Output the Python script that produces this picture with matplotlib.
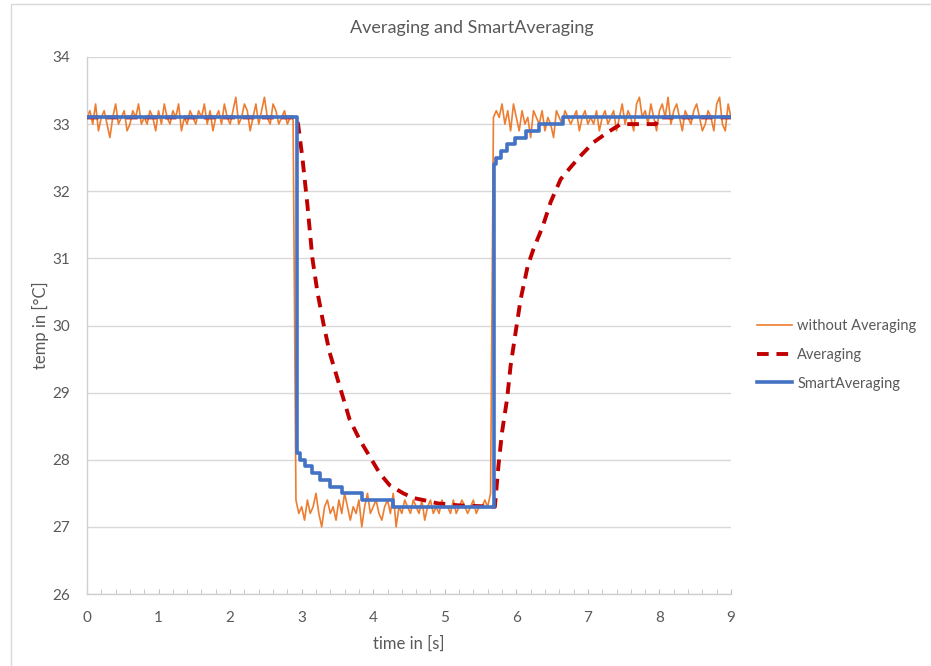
import numpy as np
import matplotlib
matplotlib.use("Agg")
import matplotlib.pyplot as plt
from matplotlib.ticker import MultipleLocator
from matplotlib.patches import Rectangle

plt.rcParams["font.family"] = ["Lato", "DejaVu Sans"]

# ── data ──────────────────────────────────────────────────────────────
SAMPLE_DT = 0.04  # raw sensor samples, seconds apart

RAW_HIGH_1 = [
    33.1, 33.2, 33.0, 33.3, 32.9, 33.1, 33.2, 33.0, 32.8, 33.1,
    33.3, 33.0, 33.1, 33.2, 32.9, 33.0, 33.2, 33.1, 33.3, 33.0,
    33.1, 33.0, 33.2, 33.1, 32.9, 33.2, 33.0, 33.3, 33.1, 33.0,
    33.2, 33.1, 33.3, 32.9, 33.1, 33.0, 33.2, 33.1, 33.0, 33.2,
    33.1, 33.3, 33.0, 33.2, 32.9, 33.1, 33.2, 33.0, 33.3, 33.1,
    33.0, 33.2, 33.4, 33.0, 33.1, 33.3, 33.2, 32.9, 33.1, 33.3,
    33.0, 33.2, 33.4, 33.1, 33.0, 33.3, 33.2, 33.0, 33.1, 33.2,
    33.0, 33.1, 33.1,
]
RAW_LOW = [
    27.4, 27.2, 27.3, 27.1, 27.4, 27.2, 27.3, 27.5, 27.2, 27.0,
    27.3, 27.4, 27.2, 27.3, 27.1, 27.4, 27.2, 27.5, 27.3, 27.1,
    27.3, 27.2, 27.4, 27.0, 27.3, 27.5, 27.2, 27.3, 27.4, 27.2,
    27.1, 27.3, 27.4, 27.2, 27.5, 27.0, 27.3, 27.2, 27.4, 27.3,
    27.2, 27.4, 27.3, 27.2, 27.4, 27.1, 27.3, 27.4, 27.2, 27.3,
    27.2, 27.4, 27.3, 27.3, 27.2, 27.4, 27.2, 27.3, 27.4, 27.3,
    27.2, 27.3, 27.4, 27.2, 27.3, 27.3, 27.4, 27.3, 27.5,
]
RAW_HIGH_2 = [
    33.1, 33.2, 33.1, 33.3, 33.0, 33.2, 32.9, 33.3, 33.1, 32.9,
    33.2, 33.0, 33.1, 32.8, 33.2, 33.1, 33.0, 33.2, 32.9, 33.1,
    33.0, 32.8, 33.2, 33.1, 33.0, 33.2, 33.1, 33.0, 33.1, 33.2,
    32.9, 33.1, 33.2, 33.0, 33.1, 33.0, 33.2, 32.9, 33.1, 33.2,
    33.0, 33.1, 33.2, 32.9, 33.1, 33.3, 33.0, 33.2, 33.1, 32.9,
    33.3, 33.4, 33.1, 33.2, 33.0, 33.3, 33.1, 32.9, 33.2, 33.3,
    33.1, 33.4, 33.0, 33.2, 33.3, 33.1, 32.9, 33.2, 33.1, 33.0,
    33.2, 33.3, 33.1, 32.9, 33.0, 33.2, 33.1, 32.9, 33.3, 33.4,
    33.0, 32.9, 33.3, 33.1,
]

AVG_T = [0.0, 2.92, 2.95, 3.01, 3.08, 3.15, 3.22, 3.30, 3.39, 3.53,
         3.67, 3.81, 3.95, 4.09, 4.23, 4.42, 4.56, 4.70, 4.90, 5.20,
         5.70, 5.75, 5.80, 5.87, 5.92, 5.99, 6.06, 6.16, 6.24, 6.37,
         6.48, 6.62, 6.76, 6.90, 7.08, 7.28, 7.46, 7.95, 8.00, 9.00]
AVG_V = [33.1, 33.1, 33.0, 32.5, 31.8, 31.0, 30.5, 30.05, 29.6, 29.1,
         28.6, 28.3, 28.05, 27.8, 27.62, 27.5, 27.43, 27.4, 27.35, 27.32,
         27.3, 27.91, 28.41, 28.9, 29.4, 29.9, 30.39, 30.89, 31.14, 31.48,
         31.84, 32.18, 32.36, 32.53, 32.73, 32.88, 33.0, 33.0, 33.1, 33.1]

SMART_T = [0.0, 2.93, 2.97, 3.04, 3.14, 3.25, 3.39, 3.56, 3.84, 4.28,
           5.69, 5.72, 5.79, 5.87, 5.98, 6.13, 6.31, 6.65, 9.00]
SMART_V = [33.1, 28.1, 28.0, 27.9, 27.8, 27.7, 27.6, 27.5, 27.4, 27.3,
           32.4, 32.5, 32.6, 32.7, 32.8, 32.9, 33.0, 33.1, 33.1]

raw = RAW_HIGH_1 + RAW_LOW + RAW_HIGH_2
raw_t = np.arange(len(raw)) * SAMPLE_DT

# ── figure ─────────────────────────────────────────────────────────────
W, H = 931, 666
fig = plt.figure(figsize=(W / 100, H / 100), dpi=100)
ax = fig.add_axes([87 / W, 1 - 594 / H, (731 - 87) / W, (594 - 57) / H])

ax.plot(raw_t, raw, color="#ED7D31", lw=1.2, label="without Averaging", zorder=2)
ax.plot(AVG_T, AVG_V, color="#C00000", lw=2.8, dashes=(3.0, 2.0),
        label="Averaging", zorder=3)
ax.plot(SMART_T, SMART_V, color="#4472C4", lw=2.6, drawstyle="steps-post",
        label="SmartAveraging", zorder=4)

ax.set_xlim(0, 9)
ax.set_ylim(26, 34)
ax.xaxis.set_major_locator(MultipleLocator(1))
ax.xaxis.set_minor_locator(MultipleLocator(0.2))
ax.yaxis.set_major_locator(MultipleLocator(1))
ax.grid(axis="y", color="#D9D9D9", lw=1)
ax.set_axisbelow(True)

for s in ["top", "right"]:
    ax.spines[s].set_visible(False)
for s in ["left", "bottom"]:
    ax.spines[s].set_color("#D0D0D0")
    ax.spines[s].set_linewidth(1)

ax.tick_params(axis="x", which="both", direction="in", length=3.5,
               color="#BFBFBF", labelsize=11, labelcolor="#595959", pad=12)
ax.tick_params(axis="y", length=0, labelsize=11, labelcolor="#595959", pad=12)

fig.text(472 / W, 1 - 28 / H, "Averaging and SmartAveraging", fontsize=13,
         color="#595959", ha="center", va="center")
ax.set_xlabel("time in [s]", fontsize=12, color="#595959", labelpad=8)
fig.text(40 / W, 1 - 325 / H, "temp in [°C]", fontsize=12, color="#595959",
         rotation=90, ha="center", va="center")

fig.legend(loc="center left", bbox_to_anchor=(757 / W, 1 - 355 / H),
           frameon=False, fontsize=10.5, handlelength=2.4, handletextpad=0.35,
           labelspacing=1.0, borderpad=0, borderaxespad=0, labelcolor="#595959")

# chart border like the spreadsheet frame
fig.add_artist(Rectangle((11 / W, -0.05), 1.0, 1 - 4 / H + 0.05,
                         transform=fig.transFigure, fill=False,
                         edgecolor="#D9D9D9", lw=1))

fig.savefig("out.png", dpi=100)
